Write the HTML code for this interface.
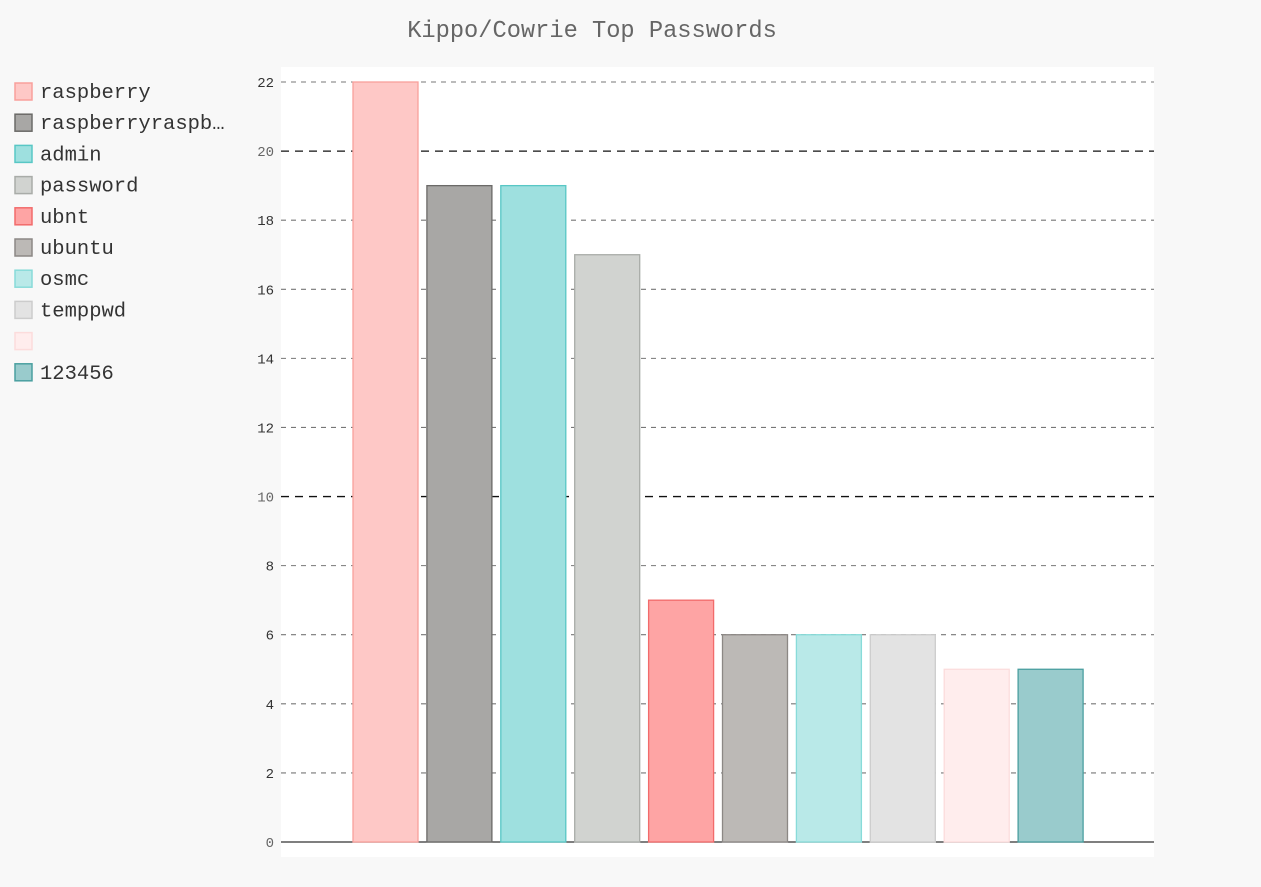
<!DOCTYPE html>
<html><head><meta charset="utf-8"><style>
html,body{margin:0;padding:0;background:#f8f8f8;}
svg{display:block;font-family:"Liberation Mono",monospace;}
</style></head><body>
<svg id="c" width="1261" height="887" xmlns="http://www.w3.org/2000/svg">
<rect width="1261" height="887" fill="#f8f8f8"/>
<text x="592" y="37" text-anchor="middle" font-size="23.7" fill="#666">Kippo/Cowrie Top Passwords</text>
<rect x="281" y="67" width="873" height="790" fill="#fff"/>
<g id="grid"></g><g id="bars"></g><g id="legend"></g>
</svg>
<script>
const categories=["raspberry","raspberryraspb…","admin","password","ubnt","ubuntu","osmc","temppwd","","123456"];
const values=[22,19,19,17,7,6,6,6,5,5];
const fills=["#fec8c6","#a8a7a5","#9ee0df","#d1d3d0","#fea4a4","#bcb9b6","#b9e9e8","#e3e3e3","#ffeded","#99cbcc"];
const strokes=["#f9a09c","#6b6a68","#58c7c5","#a9aca8","#f26b6b","#8c8885","#88dbd9","#cccccc","#fcdcdc","#4a9fa0"];
const ticks=[0,2,4,6,8,10,12,14,16,18,20,22];
const NS="http://www.w3.org/2000/svg";
const y=v=>842-v*760/22;
const x=i=>353+i*73.9;
function mk(t,a,p){const e=document.createElementNS(NS,t);for(const k in a)e.setAttribute(k,a[k]);p.appendChild(e);return e;}
const grid=document.getElementById('grid'),bars=document.getElementById('bars'),leg=document.getElementById('legend');
ticks.forEach(t=>{
  const major=t%10===0;
  const l=mk('line',{x1:281,x2:1154,y1:y(t),y2:y(t),stroke:t===0?'#333':(major?'#111':'#777'),'stroke-dasharray':t===0?'none':(major?'8,6':'5,5'),'stroke-width':t===0?1.3:(major?1.3:1.1)},grid);
  
  
  const tx=mk('text',{x:274,y:y(t)+5,'text-anchor':'end','font-size':14,fill:major?'#666':'#333'},grid);
  tx.textContent=t;
  
  
});
values.forEach((v,i)=>{
  const r=mk('rect',{x:x(i),y:y(v),width:65,height:y(0)-y(v),fill:fills[i],stroke:strokes[i],'stroke-width':1.3},bars);
  
  
  const s=mk('rect',{x:15,y:83+i*31.2,width:17,height:17,fill:fills[i],stroke:strokes[i],'stroke-width':1.5},leg);
  
  
  const t=mk('text',{x:40,y:98+i*31.2,'font-size':20.5,fill:'#333'},leg);
  t.textContent=categories[i];
  
  
});
</script>
</body></html>
